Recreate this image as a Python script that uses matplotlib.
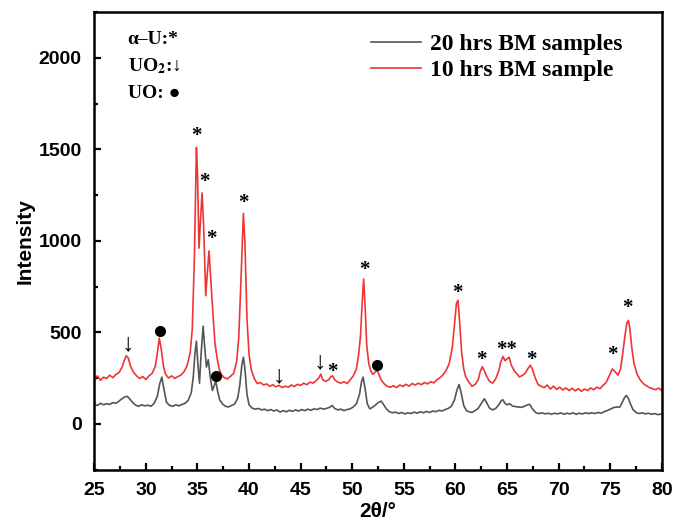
import matplotlib
matplotlib.use("Agg")
import matplotlib.pyplot as plt
from matplotlib.ticker import MultipleLocator

# 10 hrs BM sample (red)
red_x = [25.0, 25.3, 25.6, 25.9, 26.2, 26.5, 26.8, 27.1, 27.4, 27.7, 27.9, 28.1, 28.3, 28.5, 28.8,
         29.1, 29.4, 29.7, 30.0, 30.3, 30.6, 30.9, 31.1, 31.3, 31.5, 31.7, 31.9, 32.2, 32.5, 32.8,
         33.1, 33.4, 33.7, 34.0, 34.3, 34.5, 34.7, 34.9, 35.0, 35.15, 35.3, 35.45, 35.6, 35.8, 35.95,
         36.12, 36.3, 36.5, 36.7, 36.9, 37.1, 37.3, 37.6, 37.9, 38.2, 38.5, 38.8, 39.0, 39.2, 39.45,
         39.6, 39.8, 40.0, 40.2, 40.5, 40.8, 41.1, 41.4, 41.7, 42.0, 42.3, 42.6, 42.9, 43.2, 43.5,
         43.8, 44.1, 44.4, 44.7, 45.0, 45.3, 45.6, 45.9, 46.2, 46.5, 46.75, 46.95, 47.15, 47.4, 47.7,
         47.9, 48.1, 48.3, 48.6, 48.9, 49.2, 49.5, 49.8, 50.1, 50.4, 50.6, 50.8, 50.95, 51.1, 51.25,
         51.4, 51.6, 51.8, 52.0, 52.2, 52.4, 52.6, 52.8, 53.1, 53.4, 53.7, 54.0, 54.3, 54.6, 54.9,
         55.2, 55.5, 55.8, 56.1, 56.4, 56.7, 57.0, 57.3, 57.6, 57.9, 58.2, 58.5, 58.8, 59.1, 59.4,
         59.7, 59.9, 60.1, 60.25, 60.4, 60.6, 60.8, 61.0, 61.3, 61.6, 61.9, 62.2, 62.4, 62.6, 62.8,
         63.0, 63.3, 63.6, 63.9, 64.2, 64.4, 64.6, 64.8, 65.0, 65.2, 65.4, 65.7, 66.0, 66.2, 66.5,
         66.8, 67.0, 67.25, 67.45, 67.7, 68.0, 68.3, 68.6, 68.9, 69.2, 69.5, 69.8, 70.1, 70.4, 70.7,
         71.0, 71.3, 71.6, 71.9, 72.2, 72.5, 72.8, 73.1, 73.4, 73.7, 74.0, 74.3, 74.6, 74.9, 75.2,
         75.45, 75.75, 76.0, 76.2, 76.4, 76.6, 76.75, 76.9, 77.1, 77.3, 77.6, 77.9, 78.2, 78.5, 78.8,
         79.1, 79.4, 79.7, 80.0]
red_y = [245, 262, 238, 255, 248, 266, 252, 270, 280, 310, 345, 372, 360, 318, 282,
         262, 248, 258, 242, 262, 275, 312, 380, 468, 405, 318, 272, 250, 262, 248,
         258, 266, 285, 318, 390, 520, 900, 1510, 1380, 960, 1120, 1262, 1080, 700, 820,
         945, 780, 600, 440, 360, 300, 270, 252, 245, 260, 275, 340, 470, 760, 1150,
         990, 570, 380, 300, 248, 220, 226, 212, 218, 205, 214, 202, 210, 198, 206,
         200, 212, 204, 216, 210, 222, 214, 228, 222, 236, 250, 272, 240, 232, 240,
         256, 262, 240, 228, 222, 230, 220, 240, 262, 300, 370, 480, 650, 792, 640,
         430, 330, 288, 270, 282, 292, 268, 240, 218, 205, 200, 208, 198, 212, 204,
         216, 206, 220, 212, 222, 214, 226, 218, 230, 224, 240, 252, 268, 292, 330,
         420, 540, 660, 675, 560, 390, 300, 256, 228, 205, 215, 240, 285, 312, 290,
         262, 232, 222, 246, 290, 340, 368, 345, 355, 364, 322, 290, 270, 256, 265,
         280, 300, 320, 300, 255, 215, 205, 198, 212, 190, 206, 188, 200, 185, 196,
         182, 194, 180, 192, 178, 190, 182, 196, 186, 200, 192, 210, 226, 262, 300,
         286, 266, 300, 380, 470, 550, 565, 520, 410, 330, 272, 240, 220, 208, 198,
         192, 186, 196, 180]

# 20 hrs BM samples (grey)
grey_x = [25.0, 25.3, 25.6, 25.9, 26.2, 26.5, 26.8, 27.1, 27.4, 27.7, 28.0, 28.2, 28.4, 28.7, 29.0,
          29.3, 29.6, 29.9, 30.2, 30.5, 30.8, 31.1, 31.35, 31.55, 31.75, 32.0, 32.3, 32.6, 32.9, 33.2,
          33.5, 33.8, 34.1, 34.4, 34.6, 34.75, 34.9, 35.05, 35.2, 35.35, 35.55, 35.7, 35.87, 36.05, 36.25,
          36.45, 36.6, 36.77, 36.95, 37.15, 37.4, 37.7, 38.0, 38.3, 38.6, 38.9, 39.1, 39.3, 39.45, 39.6,
          39.8, 40.0, 40.3, 40.6, 40.9, 41.2, 41.5, 41.8, 42.1, 42.4, 42.7, 43.0, 43.3, 43.6, 43.9,
          44.2, 44.5, 44.8, 45.1, 45.4, 45.7, 46.0, 46.3, 46.6, 46.9, 47.2, 47.5, 47.8, 48.05, 48.3,
          48.6, 48.9, 49.2, 49.5, 49.8, 50.1, 50.4, 50.7, 50.9, 51.05, 51.25, 51.45, 51.7, 51.95, 52.2,
          52.5, 52.8, 53.0, 53.3, 53.6, 53.9, 54.2, 54.5, 54.8, 55.1, 55.4, 55.7, 56.0, 56.3, 56.6,
          56.9, 57.2, 57.5, 57.8, 58.1, 58.4, 58.7, 59.0, 59.3, 59.6, 59.9, 60.15, 60.35, 60.55, 60.8,
          61.05, 61.3, 61.6, 61.9, 62.2, 62.5, 62.8, 63.0, 63.3, 63.6, 63.9, 64.2, 64.45, 64.6, 64.8,
          65.0, 65.25, 65.5, 65.8, 66.1, 66.4, 66.7, 67.0, 67.2, 67.45, 67.8, 68.1, 68.4, 68.7, 69.0,
          69.3, 69.6, 69.9, 70.2, 70.5, 70.8, 71.1, 71.4, 71.7, 72.0, 72.3, 72.6, 72.9, 73.2, 73.5,
          73.8, 74.1, 74.4, 74.7, 75.0, 75.3, 75.6, 75.9, 76.1, 76.35, 76.55, 76.75, 76.95, 77.2, 77.5,
          77.8, 78.1, 78.4, 78.7, 79.0, 79.3, 79.6, 80.0]
grey_y = [108, 100, 112, 104, 110, 106, 116, 112, 124, 138, 148, 150, 138, 118, 102,
          96, 104, 98, 102, 96, 112, 148, 220, 255, 190, 118, 100, 96, 104, 98,
          106, 112, 128, 170, 260, 380, 452, 320, 222, 380, 534, 420, 310, 350, 250,
          182, 205, 233, 180, 132, 110, 96, 92, 100, 108, 140, 210, 320, 364, 300,
          160, 104, 86, 80, 84, 76, 80, 72, 78, 70, 76, 64, 72, 66, 74,
          68, 76, 70, 78, 72, 80, 74, 82, 78, 86, 80, 84, 90, 100, 84,
          76, 80, 72, 78, 82, 92, 110, 160, 230, 255, 190, 110, 82, 90, 100,
          116, 124, 108, 82, 66, 60, 64, 56, 62, 54, 60, 56, 64, 58, 66,
          60, 68, 62, 70, 66, 74, 70, 78, 84, 96, 130, 185, 215, 170, 100,
          73, 66, 62, 72, 84, 110, 137, 118, 86, 76, 84, 104, 128, 131, 112,
          104, 110, 98, 94, 92, 90, 96, 104, 106, 82, 60, 56, 60, 54, 58,
          52, 58, 54, 60, 52, 58, 54, 60, 52, 58, 54, 60, 56, 60, 56,
          62, 58, 66, 72, 80, 88, 92, 90, 110, 140, 155, 140, 110, 78, 62,
          56, 60, 54, 58, 52, 56, 50, 54]

# phase marks (2theta, intensity)
star_x = [34.9, 35.64, 36.38, 39.45, 48.07, 51.13, 60.17, 62.55, 67.33, 75.17, 76.63]
star_y = [1572, 1322, 1008, 1207, 282, 839, 715, 350, 350, 377, 632]
dstar_x = [64.94]
dstar_y = [405]
arrow_x = [28.22, 42.87, 46.9]
arrow_y = [434, 259, 337]
dot_x = [31.35, 36.77, 52.43]
dot_y = [507, 259, 319]

plt.rcParams['mathtext.fontset'] = 'stix'
sans = ['Liberation Sans', 'DejaVu Sans']
serif = ['Liberation Serif', 'DejaVu Serif']

fig = plt.figure(figsize=(6.88, 5.27), dpi=100)
ax = fig.add_axes([0.137, 0.109, 0.825, 0.868])

ax.plot(grey_x, grey_y, color='#555555', lw=1.2, label='20 hrs BM samples')
ax.plot(red_x, red_y, color='#ee3535', lw=1.2, label='10 hrs BM sample')

for x, y in zip(star_x, star_y):
    ax.text(x, y, '*', fontsize=15, family=serif, fontweight='bold', ha='center', va='center')
for x, y in zip(dstar_x, dstar_y):
    ax.text(x, y, '**', fontsize=15, family=serif, fontweight='bold', ha='center', va='center')
for x, y in zip(arrow_x, arrow_y):
    ax.text(x, y, '\u2193', fontsize=18, family=serif, ha='center', va='center')
ax.plot(dot_x, dot_y, 'o', color='black', ms=7, ls='none')

ax.text(0.059, 0.94, '\u03b1\u2013U:*', transform=ax.transAxes, fontsize=14,
        family=serif, fontweight='bold', va='center')
ax.text(0.059, 0.882, 'UO$_\\mathbf{2}$:\u2193', transform=ax.transAxes,
        fontsize=14, family=serif, fontweight='bold', va='center')
ax.text(0.059, 0.823, 'UO: \u25cf', transform=ax.transAxes, fontsize=14,
        family=serif, fontweight='bold', va='center')

leg = ax.legend(loc='upper left', bbox_to_anchor=(0.45, 1.0), frameon=False,
                handlelength=2.1, handletextpad=0.42, labelspacing=0.2,
                prop={'family': serif, 'weight': 'bold', 'size': 17})

ax.set_xlim(25, 80)
ax.set_ylim(-250, 2250)
ax.xaxis.set_major_locator(MultipleLocator(5))
ax.xaxis.set_minor_locator(MultipleLocator(2.5))
ax.yaxis.set_major_locator(MultipleLocator(500))
ax.yaxis.set_minor_locator(MultipleLocator(250))
ax.tick_params(which='both', direction='in', width=1.6, labelsize=14, pad=9)
ax.tick_params(which='major', length=5)
ax.tick_params(which='minor', length=3)
for lab in ax.get_xticklabels() + ax.get_yticklabels():
    lab.set_family(sans)
    lab.set_fontweight('bold')
for s in ax.spines.values():
    s.set_linewidth(1.8)

ax.set_xlabel('2\u03b8/\u00b0', family=sans, fontweight='bold', fontsize=15, labelpad=2)
ax.set_ylabel('Intensity', family=sans, fontweight='bold', fontsize=15, labelpad=3)

fig.savefig('out.png', dpi=100)
